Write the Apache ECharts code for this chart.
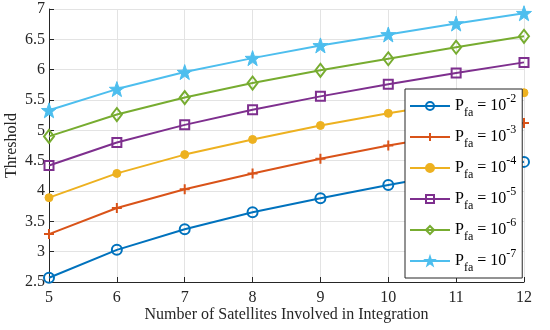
<!DOCTYPE html>
<html>
<head>
<meta charset="utf-8">
<script src="https://cdn.jsdelivr.net/npm/echarts@6/dist/echarts.min.js"></script>
<style>html,body{margin:0;padding:0;background:#fff}#c{width:550px;height:330px}</style>
</head>
<body>
<div id="c"></div>
<script>
var satellites = [5, 6, 7, 8, 9, 10, 11, 12];
var pfa2 = [2.57, 3.03, 3.37, 3.65, 3.88, 4.10, 4.30, 4.48];
var pfa3 = [3.29, 3.72, 4.03, 4.29, 4.53, 4.75, 4.94, 5.12];
var pfa4 = [3.89, 4.29, 4.60, 4.85, 5.08, 5.28, 5.46, 5.62];
var pfa5 = [4.42, 4.80, 5.09, 5.34, 5.56, 5.76, 5.945, 6.12];
var pfa6 = [4.90, 5.26, 5.54, 5.78, 5.99, 6.18, 6.37, 6.55];
var pfa7 = [5.33, 5.68, 5.96, 6.19, 6.40, 6.58, 6.76, 6.93];
var exponents = ['-2', '-3', '-4', '-5', '-6', '-7'];
var seriesValues = [pfa2, pfa3, pfa4, pfa5, pfa6, pfa7];

var colors = ['#0072BD', '#D95319', '#EDB120', '#7E2F8E', '#77AC30', '#4DBEEE'];
var star = 'path://M0,-10 L2.35,-3.24 L9.51,-3.09 L3.8,1.24 L5.88,8.09 L0,4 L-5.88,8.09 L-3.8,1.24 L-9.51,-3.09 L-2.35,-3.24 Z';
var plus = 'path://M5,0 L5,10 M0,5 L10,5';
var markers = [
  {symbol: 'circle', size: 10, open: true},
  {symbol: plus, size: 10, open: true},
  {symbol: 'circle', size: 8, open: false},
  {symbol: 'rect', size: 9, open: true},
  {symbol: 'diamond', size: [10, 13], open: true},
  {symbol: star, size: 15, open: false}
];
var font = '"Liberation Serif", "Times New Roman", serif';

var series = seriesValues.map(function (vals, i) {
  var m = markers[i];
  return {
    name: 'P_fa = 10^' + exponents[i],
    type: 'line',
    data: satellites.map(function (x, j) { return [x, vals[j]]; }),
    symbol: m.symbol,
    symbolSize: m.size,
    showSymbol: true,
    lineStyle: {color: colors[i], width: 2},
    itemStyle: m.open ? {color: 'none', borderColor: colors[i], borderWidth: 2} : {color: colors[i], borderColor: colors[i], borderWidth: 1},
    emphasis: {disabled: true},
    animation: false
  };
});

var chart = echarts.init(document.getElementById('c'));
chart.setOption({
  animation: false,
  textStyle: {fontFamily: font},
  grid: {left: 49, right: 26, top: 9, bottom: 48, containLabel: false, outerBoundsMode: 'none'},
  xAxis: {
    type: 'value', min: 5, max: 12, interval: 1,
    name: 'Number of Satellites Involved in Integration',
    nameLocation: 'middle', nameGap: 25, nameMoveOverlap: false,
    nameTextStyle: {fontFamily: font, fontSize: 16, color: '#262626'},
    axisLine: {show: true, lineStyle: {color: '#262626', width: 1}},
    axisTick: {show: true, inside: true, length: 5, lineStyle: {color: '#262626'}},
    axisLabel: {fontFamily: font, fontSize: 16, color: '#262626', margin: 8},
    splitLine: {show: true, lineStyle: {color: '#e3e3e3', width: 1}}
  },
  yAxis: {
    type: 'value', min: 2.5, max: 7, interval: 0.5,
    name: 'Threshold',
    nameLocation: 'middle', nameGap: 29, nameMoveOverlap: false,
    nameTextStyle: {fontFamily: font, fontSize: 16, color: '#262626'},
    axisLine: {show: true, lineStyle: {color: '#262626', width: 1}},
    axisTick: {show: true, inside: true, length: 5, lineStyle: {color: '#262626'}},
    axisLabel: {fontFamily: font, fontSize: 16, color: '#262626', margin: 4},
    splitLine: {show: true, lineStyle: {color: '#e3e3e3', width: 1}}
  },
  legend: {
    orient: 'vertical',
    left: 405, top: 89,
    padding: [4, 6, 4, 4],
    itemWidth: 40, itemHeight: 10, itemGap: 5,
    backgroundColor: '#ffffff',
    borderColor: '#262626', borderWidth: 1,
    formatter: function (name) {
      var exp = name.split('^')[1];
      return '{p|P}{sub|fa}{p| = 10}{sup|' + exp + '}';
    },
    textStyle: {
      fontFamily: font, fontSize: 16, color: '#000',
      rich: {
        p: {fontFamily: font, fontSize: 16, color: '#000', lineHeight: 26, verticalAlign: 'middle'},
        sub: {fontFamily: font, fontSize: 12, color: '#000', lineHeight: 26, verticalAlign: 'bottom'},
        sup: {fontFamily: font, fontSize: 12, color: '#000', lineHeight: 26, verticalAlign: 'top'}
      }
    },
    data: series.map(function (s) { return s.name; })
  },
  series: series
});
</script>
</body>
</html>
